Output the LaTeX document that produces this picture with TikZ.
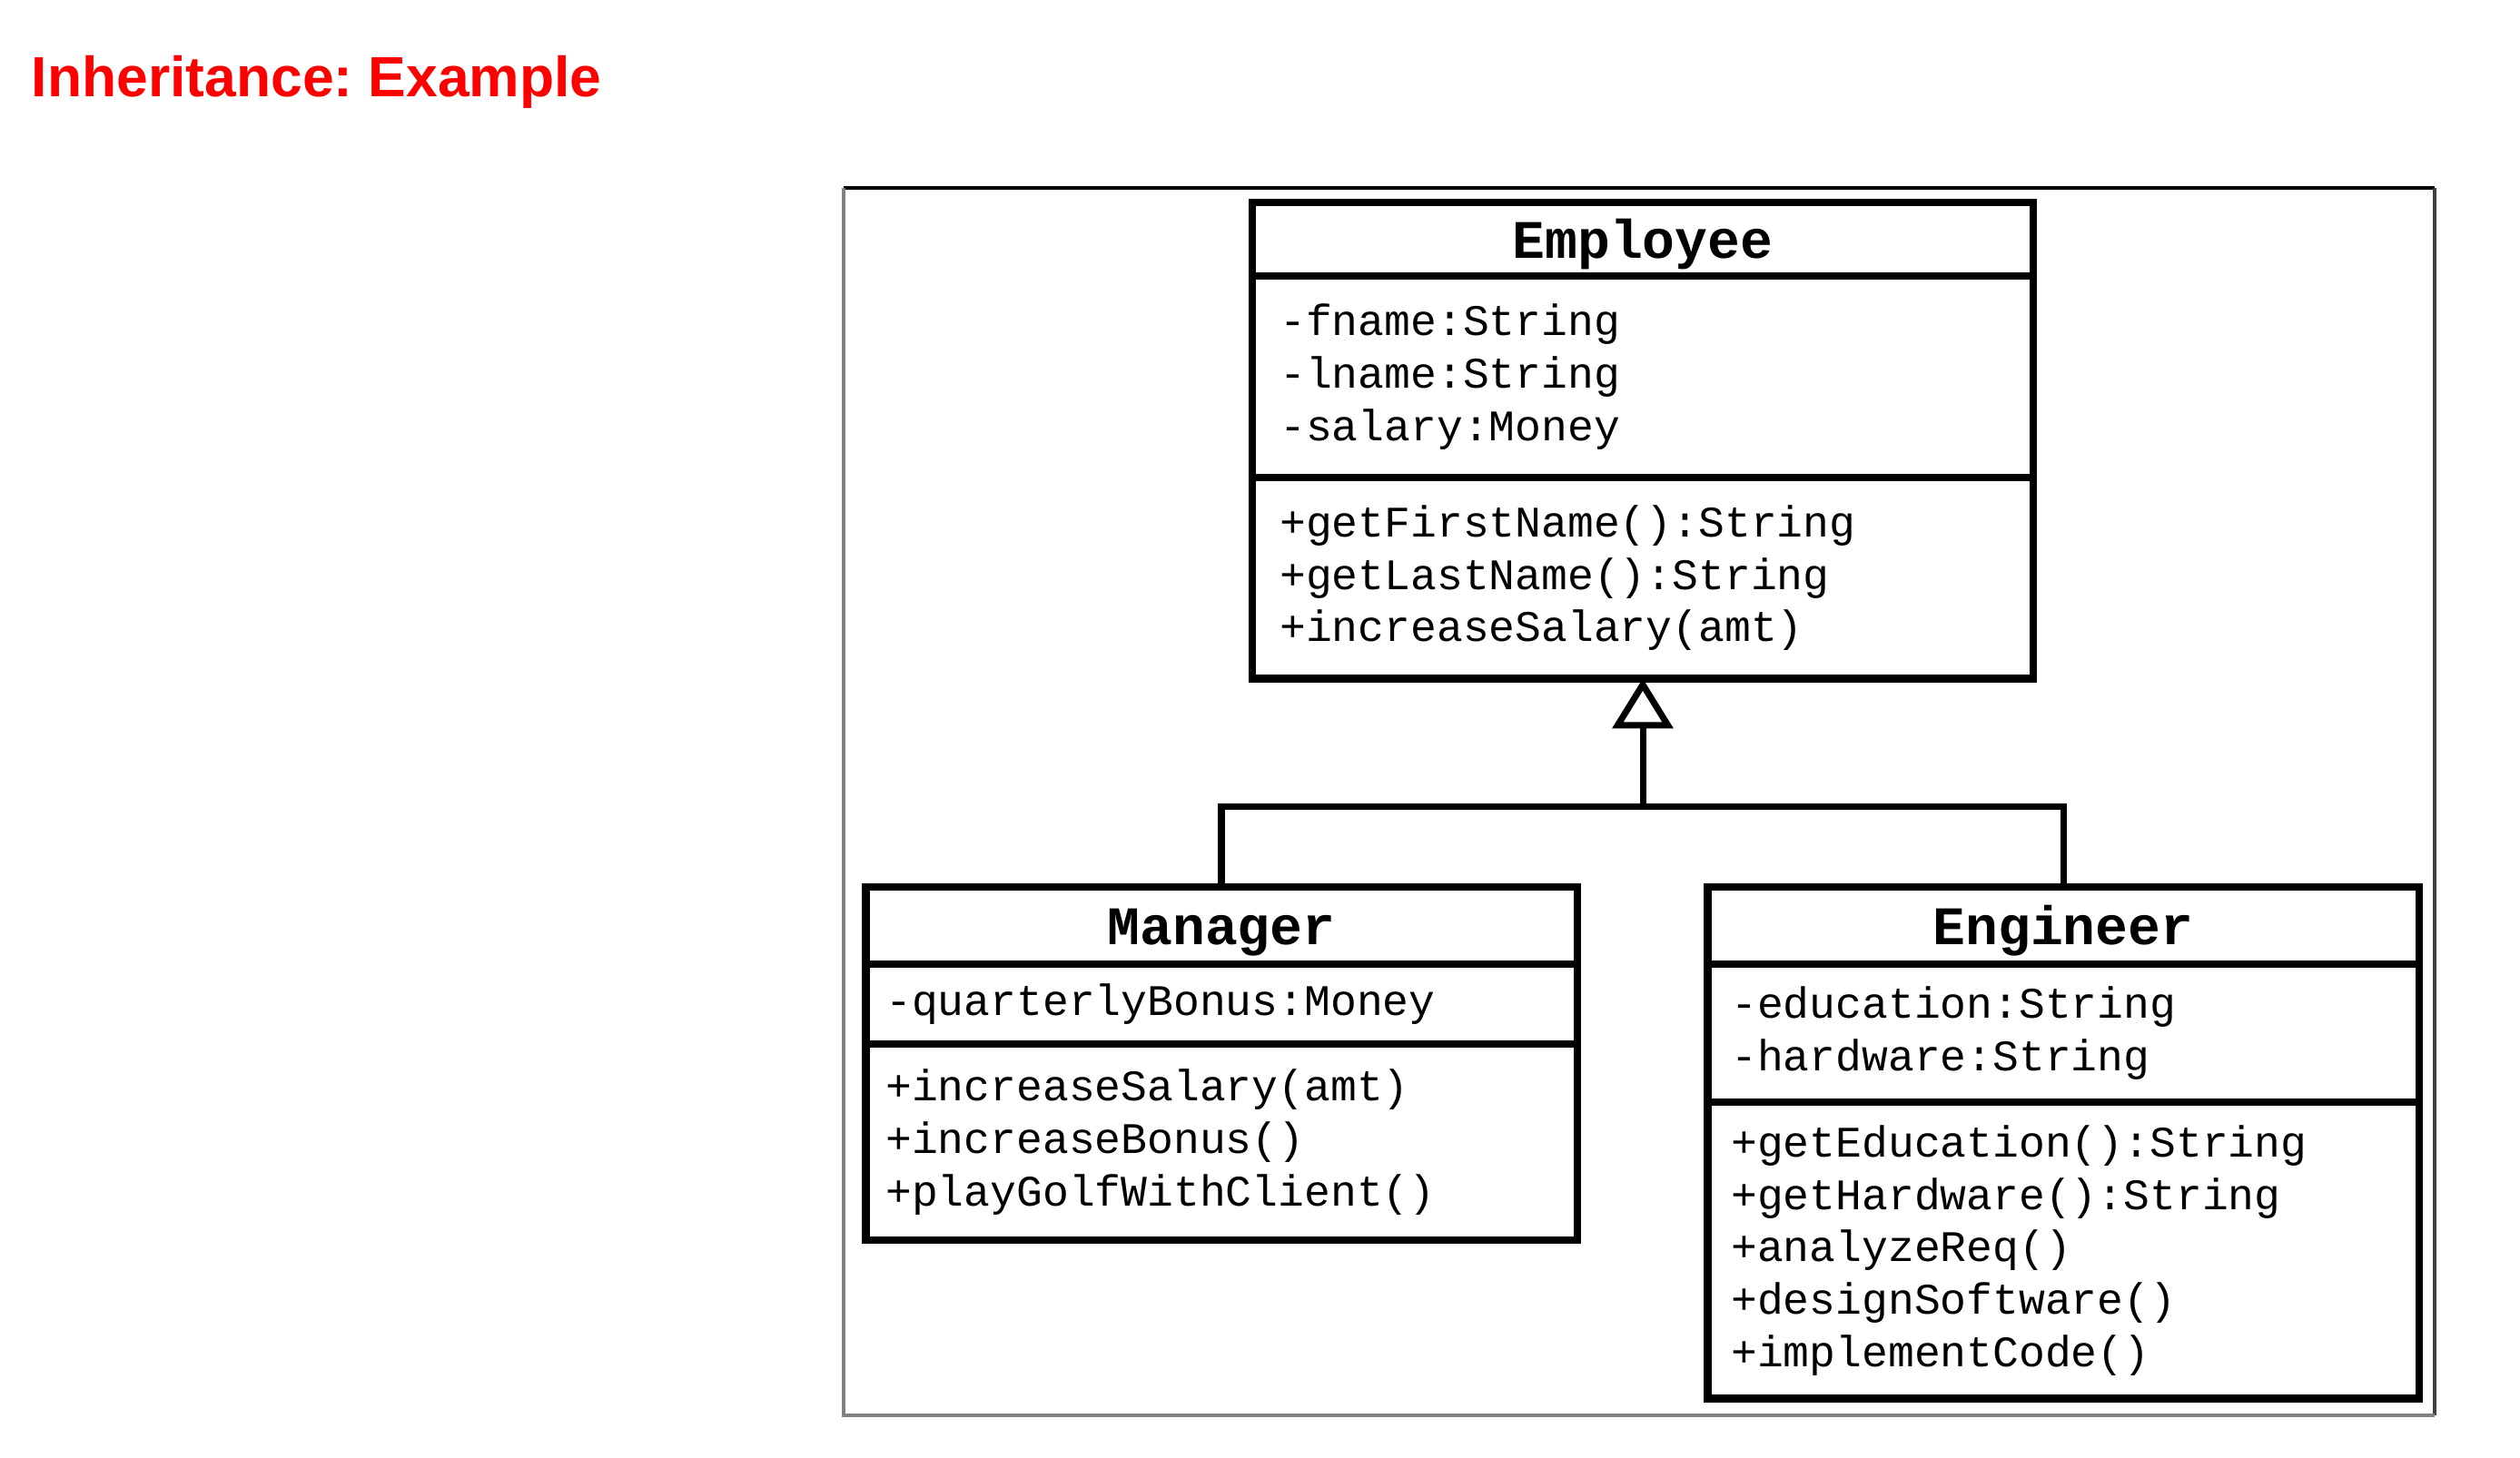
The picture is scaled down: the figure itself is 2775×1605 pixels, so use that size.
\documentclass[tikz,border=0pt]{standalone}
\usepackage{fontspec}
\setmainfont{Liberation Sans}
\setmonofont{Liberation Mono}
\usetikzlibrary{arrows.meta, positioning}
\definecolor{framegray}{RGB}{128,128,128}
\definecolor{framedark}{RGB}{64,64,64}

\begin{document}
\begin{tikzpicture}[
    x=0.01cm, y=-0.01cm,
    cname/.style={draw, line width=2.4pt, outer sep=0pt, inner sep=0pt, text height=0.54cm, text depth=0.13cm, font=\ttfamily\bfseries\fontsize{17pt}{20pt}\selectfont},
    cpart/.style={draw, line width=2.4pt, outer sep=0pt, inner xsep=0.22cm, inner ysep=0pt, align=left, font=\ttfamily\fontsize{13.66pt}{16.4pt}\selectfont},
    gen/.style={line width=2pt, -{Triangle[open, length=0.55cm, width=0.66cm]}},
    link/.style={line width=2pt},
]
    \useasboundingbox (0,0) rectangle (2775,1605);

    \node[red, font=\bfseries\fontsize{17.75pt}{21pt}\selectfont, anchor=base west, inner sep=0pt] (ttl) at (34,106) {\frenchspacing Inheritance: Example};

    % frame
    \draw[line width=1.1pt, black] (929,207) -- (2681,207);
    \draw[line width=1.1pt, framedark] (2681,207) -- (2681,1559);
    \draw[line width=1.1pt, framegray] (929,207) -- (929,1559) -- (2681,1559);

    % Employee
    \node[cname, minimum width=8.59cm, minimum height=0.81cm, anchor=north] (emp) at (1809,223) {Employee};
    \node[cpart, inner xsep=0.3cm, text width=7.99cm, minimum height=2.22cm, below=0pt of emp] (empattr) {-fname:String\\-lname:String\\-salary:Money};
    \node[cpart, inner xsep=0.3cm, text width=7.99cm, minimum height=2.21cm, below=0pt of empattr] (empops) {+getFirstName():String\\+getLastName():String\\+increaseSalary(amt)};

    % Manager
    \node[cname, minimum width=7.83cm, minimum height=0.85cm, anchor=north] (mgr) at (1345,977) {Manager};
    \node[cpart, text width=7.39cm, minimum height=0.88cm, below=0pt of mgr] (mgrattr) {-quarterlyBonus:Money};
    \node[cpart, text width=7.39cm, minimum height=2.16cm, below=0pt of mgrattr] (mgrops) {+increaseSalary(amt)\\+increaseBonus()\\+playGolfWithClient()};

    % Engineer
    \node[cname, minimum width=7.83cm, minimum height=0.85cm, anchor=north] (eng) at (2272,977) {Engineer};
    \node[cpart, inner xsep=0.26cm, text width=7.31cm, minimum height=1.52cm, below=0pt of eng] (engattr) {-education:String\\-hardware:String};
    \node[cpart, inner xsep=0.26cm, text width=7.31cm, minimum height=3.26cm, below=0pt of engattr] (engops) {+getEducation():String\\+getHardware():String\\+analyzeReq()\\+designSoftware()\\+implementCode()};

    \coordinate (jn) at (1809,888);
    \draw[gen] (jn) -- (empops.south);
    \draw[link] (mgr.north) |- (jn) -| (eng.north);
\end{tikzpicture}
\end{document}
